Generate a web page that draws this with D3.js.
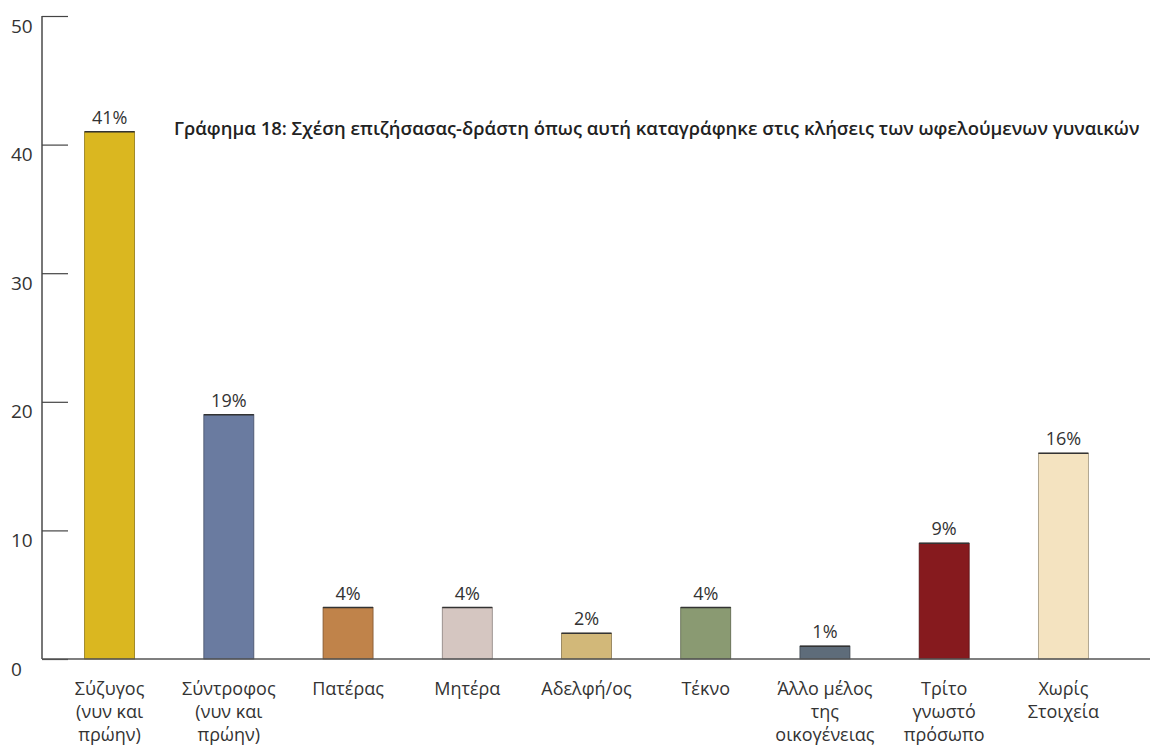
<!DOCTYPE html>
<html><head><meta charset="utf-8">
<script src="https://cdn.jsdelivr.net/npm/d3@7"></script>
<style>body{margin:0;background:#fff}svg{display:block}text{font-family:"Open Sans",sans-serif;fill:#333}</style>
</head><body><svg id="c" width="1150" height="746"></svg>
<script>
const categories = [
  ["Σύζυγος","(νυν και","πρώην)"],
  ["Σύντροφος","(νυν και","πρώην)"],
  ["Πατέρας"],
  ["Μητέρα"],
  ["Αδελφή/ος"],
  ["Τέκνο"],
  ["Άλλο μέλος","της","οικογένειας"],
  ["Τρίτο","γνωστό","πρόσωπο"],
  ["Χωρίς","Στοιχεία"]
];
const values = [41, 19, 4, 4, 2, 4, 1, 9, 16];
const labels = ["41%","19%","4%","4%","2%","4%","1%","9%","16%"];
const colors = ["#DAB720","#6A7BA0","#C0834A","#D5C6C1","#D2B879","#8A9A72","#5E6C7A","#861A1E","#F4E3C0"];
const yTicks = [0,10,20,30,40,50];
const title = "Γράφημα 18: Σχέση επιζήσασας-δράστη όπως αυτή καταγράφηκε στις κλήσεις των ωφελούμενων γυναικών";

const svg = d3.select("#c");
const x = d3.scalePoint().domain(d3.range(categories.length)).range([50,1123]).padding(0.5);
const y = d3.scaleLinear().domain([0,50]).range([659,16]);
const bw = 50;

// y axis
const yAxis = d3.axisRight(y).tickValues(yTicks).tickSize(26).tickFormat(d3.format("d"));
const ga = svg.append("g").attr("transform","translate(42,0)").call(yAxis);
ga.select(".domain").attr("stroke","#555").attr("stroke-width",1.6).attr("d","M0,16V659");
ga.selectAll(".tick line").attr("stroke","#444").attr("stroke-width",1.2);
ga.selectAll(".tick text").attr("x",-31).attr("dy","0.85em").attr("text-anchor","start")
  .style("font-size","19px").style("fill","#333").attr("font-family",null);

// bars
svg.append("g").selectAll("rect").data(values).join("rect")
  .attr("x",(d,i)=>x(i)-bw/2).attr("y",d=>y(d)).attr("width",bw).attr("height",d=>y(0)-y(d))
  .attr("fill",(d,i)=>colors[i]).attr("stroke",(d,i)=>d3.color(colors[i]).darker(1.2)).attr("stroke-width",0.8);
svg.append("g").selectAll("line").data(values).join("line")
  .attr("x1",(d,i)=>x(i)-bw/2).attr("x2",(d,i)=>x(i)+bw/2).attr("y1",d=>y(d)).attr("y2",d=>y(d))
  .attr("stroke","#333").attr("stroke-width",1.5);

// value labels
svg.append("g").selectAll("text").data(values).join("text")
  .attr("x",(d,i)=>x(i)).attr("y",d=>y(d)-8).attr("text-anchor","middle")
  .style("font-size","18px").text((d,i)=>labels[i]);

// x axis line
svg.append("line").attr("x1",42).attr("x2",1150).attr("y1",y(0)).attr("y2",y(0))
  .attr("stroke","#555").attr("stroke-width",1.6);

// category labels
const cg = svg.append("g").selectAll("text").data(categories).join("text")
  .attr("text-anchor","middle").style("font-size","18px");
cg.each(function(lines,i){
  d3.select(this).selectAll("tspan").data(lines).join("tspan")
    .attr("x",x(i)).attr("y",(l,j)=>695+j*23).text(l=>l);
});

// title
const t = svg.append("text").attr("x",174).attr("y",135).style("font-size","14px")
  .style("font-weight","600").style("fill","#222").text(title);
const w = t.node().getComputedTextLength();
t.style("font-size",(14*966/w)+"px");
</script></body></html>
